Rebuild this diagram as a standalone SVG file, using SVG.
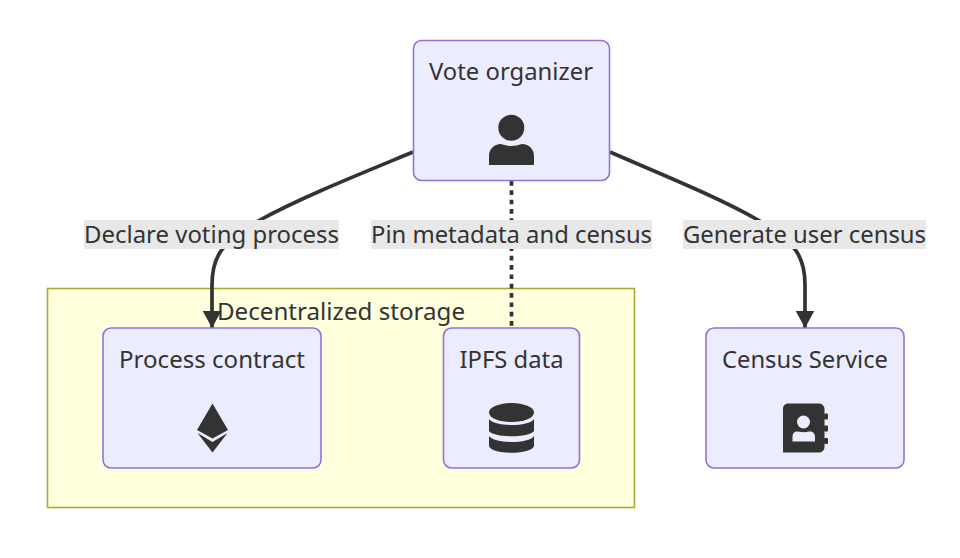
<svg xmlns="http://www.w3.org/2000/svg" width="960" height="558" viewBox="0 0 960 558">
<defs>
<marker id="arrow" markerUnits="userSpaceOnUse" markerWidth="17" markerHeight="19" refX="17" refY="9.250" viewBox="0 0 17 18.500" orient="auto"><path d="M0 0L17 9.250L0 18.500Z" fill="#333"/></marker>
</defs>
<style>
text{font-family:"Noto Sans","Liberation Sans",sans-serif;font-size:24px;fill:#333;text-anchor:middle}
.n{fill:#ececff;stroke:#9370db;stroke-width:1.6}
.e{fill:none;stroke:#333;stroke-width:3.700}
.l{fill:#e8e8e8}
.i{fill:#333}
.g{fill:#ececff}
</style>
<g id="cluster-storage">
<rect x="47.500" y="288.500" width="587" height="219" fill="#ffffde" stroke="#aaaa33" stroke-width="1.600"/>
</g>
<g id="connectors">
<path class="e" d="M413 152C355 176 300 198 260 220C222 243 212 255 212 285L212 328" marker-end="url(#arrow)"/>
<path class="e" d="M511.500 181L511.500 328" stroke-dasharray="4.670 4.670"/>
<path class="e" d="M610 152C665 176 720 198 758 220C795 243 805 255 805 285L805 328" marker-end="url(#arrow)"/>
</g>
<g id="edge-labels">
<rect class="l" x="84" y="220" width="255" height="29"/>
<text x="211.500" y="243" textLength="255" lengthAdjust="spacingAndGlyphs">Declare voting process</text>
<rect class="l" x="371" y="220" width="281" height="29"/>
<text x="511.500" y="243" textLength="281" lengthAdjust="spacingAndGlyphs">Pin metadata and census</text>
<rect class="l" x="683" y="220" width="243" height="29"/>
<text x="804.500" y="243" textLength="243" lengthAdjust="spacingAndGlyphs">Generate user census</text>
</g>
<text id="cluster-label" x="341" y="320" textLength="248" lengthAdjust="spacingAndGlyphs">Decentralized storage</text>
<g id="vote-organizer">
<rect class="n" x="413.500" y="40.500" width="196" height="140" rx="8"/>
<text x="511" y="80" textLength="164" lengthAdjust="spacingAndGlyphs">Vote organizer</text>
<circle class="i" cx="511.300" cy="127.700" r="13"/>
<path class="i" d="M489 165V156C489 149 494 144 501 144C505 145 508 146 511 146C515 146 518 145 522 144C529 144 534 149 534 156V165Z"/>
</g>
<g id="process-contract">
<rect class="n" x="103" y="328" width="218" height="140" rx="8"/>
<text x="212" y="368" textLength="186" lengthAdjust="spacingAndGlyphs">Process contract</text>
<path class="i" d="M212.500 403.500L228 430L212.500 438.500L197 430Z"/>
<path class="i" d="M197.500 433L212.500 442L227.500 433L212.500 452.500Z"/>
</g>
<g id="ipfs-data">
<rect class="n" x="443.500" y="328" width="136" height="140" rx="8"/>
<text x="511.500" y="368" textLength="104" lengthAdjust="spacingAndGlyphs">IPFS data</text>
<ellipse class="i" cx="511.500" cy="412.500" rx="22.500" ry="9.500"/>
<path class="i" d="M489 419C494 427 529 427 534 419V431C529 438 494 438 489 431Z"/>
<path class="i" d="M489 436C494 444 529 444 534 436V446C532 455 491 455 489 446Z"/>
</g>
<g id="census-service">
<rect class="n" x="706" y="328" width="198" height="140" rx="8"/>
<text x="805" y="368" textLength="166" lengthAdjust="spacingAndGlyphs">Census Service</text>
<path class="i" d="M788 403.500H819C822 403.500 824.500 406 824.500 409V447C824.500 450 822 452.500 819 452.500H783V408.500C783 406 785 403.500 788 403.500Z"/>
<rect class="i" x="824" y="413.500" width="4" height="6" rx="1"/>
<rect class="i" x="824" y="425.500" width="4" height="6" rx="1"/>
<rect class="i" x="824" y="438" width="4" height="6" rx="1"/>
<circle class="g" cx="803.500" cy="422" r="6.500"/>
<path class="g" d="M792.500 441.500V436.500C792.500 433 795 431 798 431.500C801.500 432.500 805.500 432.500 809 431.500C812 431 815 433 815 436.500V441.500Z"/>
</g>
</svg>
